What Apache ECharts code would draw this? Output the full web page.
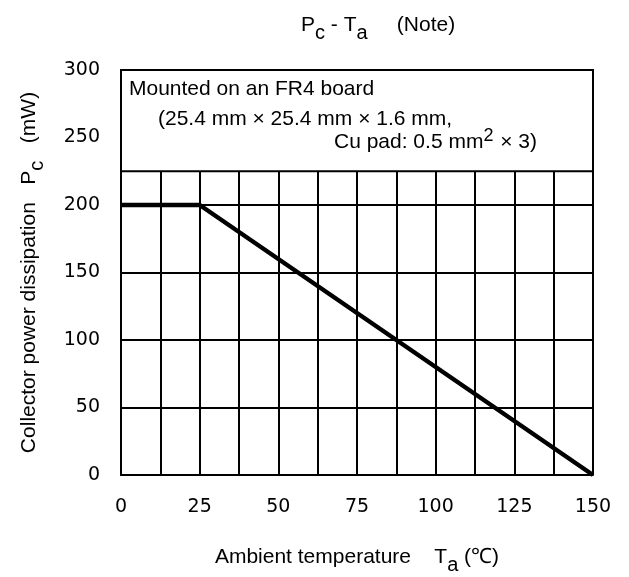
<!DOCTYPE html>
<html>
<head>
<meta charset="utf-8">
<script src="https://cdn.jsdelivr.net/npm/echarts@6/dist/echarts.min.js"></script>
<style>
  html, body { margin: 0; padding: 0; background: #fff; }
  #main { width: 629px; height: 577px; }
</style>
</head>
<body>
<div id="main"></div>
<script>
// derating curve Pc vs Ta
const ta = [0, 25, 150];
const pc = [200, 200, 0];
const xTicks = [0, 25, 50, 75, 100, 125, 150];
const yTicks = [0, 50, 100, 150, 200, 250, 300];
const noteBox = [225, 300]; // mW range covered by the mounting note

const chart = echarts.init(document.getElementById('main'));

const sans = '"Liberation Sans", Arial, sans-serif';
const tickFont = '"DejaVu Sans", Verdana, sans-serif';

// n = normal text sits at the top, s = subscript, taller box so it drops ~7px
const richSub = {
  n: { fontFamily: sans, fontSize: 21, fontWeight: 'normal', color: '#000', lineHeight: 22, verticalAlign: 'top' },
  s: { fontFamily: sans, fontSize: 20, fontWeight: 'normal', color: '#000', lineHeight: 36 }
};

const option = {
  backgroundColor: '#fff',
  animation: false,
  title: {
    text: '{n|P}{s|c}{n| - T}{s|a}{n|     (Note)}',
    left: 296,
    top: 10,
    textStyle: { fontWeight: 'normal', rich: richSub }
  },
  grid: { left: 121, right: 36, top: 70, bottom: 102, outerBoundsMode: 'none' },
  xAxis: {
    type: 'value',
    min: xTicks[0],
    max: xTicks[xTicks.length - 1],
    interval: 25,
    name: '{n|Ambient temperature    T}{s|a}{n| (\u2103)}',
    nameLocation: 'middle',
    nameGap: 72,
    nameTextStyle: { rich: richSub },
    axisLine: { show: true, lineStyle: { color: '#000', width: 2 } },
    axisTick: { show: false },
    axisLabel: { fontFamily: tickFont, fontSize: 19, color: '#000', margin: 23 },
    splitLine: { show: true, lineStyle: { color: '#000', width: 2 } },
    minorTick: { show: false, splitNumber: 2 },
    minorSplitLine: { show: true, lineStyle: { color: '#000', width: 2 } }
  },
  yAxis: {
    type: 'value',
    min: yTicks[0],
    max: yTicks[yTicks.length - 1],
    interval: 50,
    name: '{n|Collector power dissipation   P}{s|c}{n|   (mW)}',
    nameLocation: 'middle',
    nameGap: 66,
    nameTextStyle: { rich: richSub },
    axisLine: { show: true, lineStyle: { color: '#000', width: 2 } },
    axisTick: { show: false },
    axisLabel: { fontFamily: tickFont, fontSize: 19, color: '#000', margin: 21 },
    splitLine: { show: true, lineStyle: { color: '#000', width: 2 } }
  },
  series: [{
    type: 'line',
    data: ta.map((t, i) => [t, pc[i]]),
    symbol: 'none',
    lineStyle: { color: '#000', width: 4.5 },
    markArea: {
      silent: true,
      itemStyle: { color: '#fff', borderColor: '#000', borderWidth: 2, opacity: 1 },
      data: [[
        { xAxis: xTicks[0], yAxis: noteBox[0] },
        { xAxis: xTicks[xTicks.length - 1], yAxis: noteBox[1] }
      ]]
    }
  }],
  graphic: [
    {
      type: 'text', left: 129, top: 79, z: 100,
      style: { text: 'Mounted on an FR4 board', font: '21px ' + sans, fill: '#000' }
    },
    {
      type: 'text', left: 158, top: 109, z: 100,
      style: { text: '(25.4 mm \u00d7 25.4 mm \u00d7 1.6 mm,', font: '21px ' + sans, fill: '#000' }
    },
    {
      type: 'text', right: 92, top: 127, z: 100,
      style: {
        text: 'Cu pad: 0.5 mm{p|2} \u00d7 3)',
        font: '21px ' + sans, fill: '#000',
        rich: { p: { fontFamily: sans, fontSize: 18, fill: '#000', verticalAlign: 'top', padding: [0, 1, 12, 0] } }
      }
    }
  ]
};

chart.setOption(option);
</script>
</body>
</html>
